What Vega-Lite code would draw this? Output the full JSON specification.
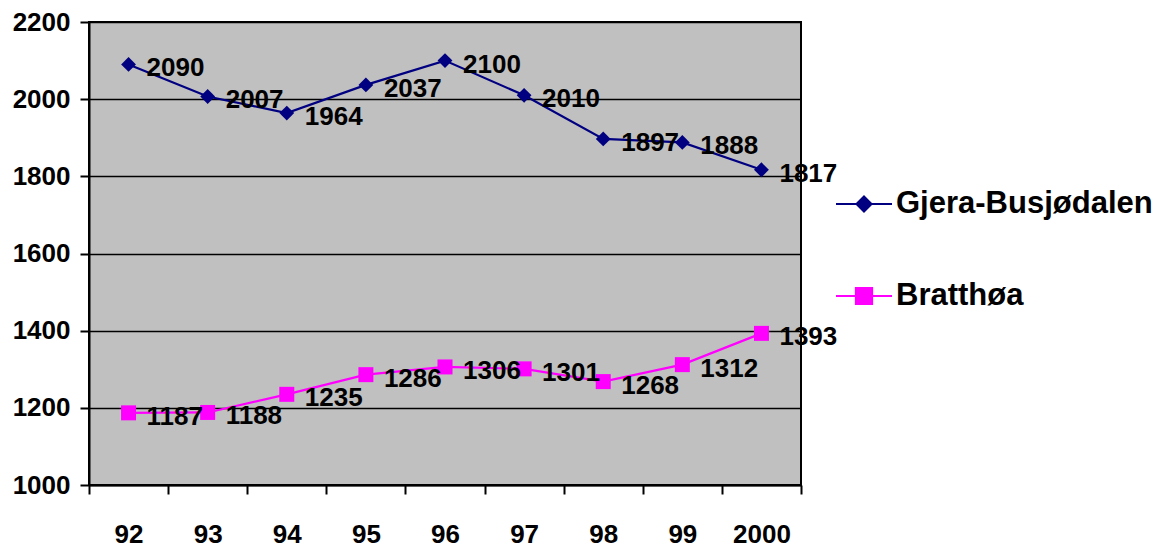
{
  "$schema": "https://vega.github.io/schema/vega-lite/v6.json",
  "width": 712,
  "height": 463,
  "autosize": "none",
  "padding": {"left": 89, "top": 22, "right": 365, "bottom": 59},
  "background": "white",
  "config": {
    "view": {"fill": "#C0C0C0", "stroke": "black", "strokeWidth": 2},
    "font": "Liberation Sans"
  },
  "data": {
    "values": [
      {"year": "92", "series": "Gjera-Busjødalen", "value": 2090},
      {"year": "93", "series": "Gjera-Busjødalen", "value": 2007},
      {"year": "94", "series": "Gjera-Busjødalen", "value": 1964},
      {"year": "95", "series": "Gjera-Busjødalen", "value": 2037},
      {"year": "96", "series": "Gjera-Busjødalen", "value": 2100},
      {"year": "97", "series": "Gjera-Busjødalen", "value": 2010},
      {"year": "98", "series": "Gjera-Busjødalen", "value": 1897},
      {"year": "99", "series": "Gjera-Busjødalen", "value": 1888},
      {"year": "2000", "series": "Gjera-Busjødalen", "value": 1817},
      {"year": "92", "series": "Bratthøa", "value": 1187},
      {"year": "93", "series": "Bratthøa", "value": 1188},
      {"year": "94", "series": "Bratthøa", "value": 1235},
      {"year": "95", "series": "Bratthøa", "value": 1286},
      {"year": "96", "series": "Bratthøa", "value": 1306},
      {"year": "97", "series": "Bratthøa", "value": 1301},
      {"year": "98", "series": "Bratthøa", "value": 1268},
      {"year": "99", "series": "Bratthøa", "value": 1312},
      {"year": "2000", "series": "Bratthøa", "value": 1393}
    ]
  },
  "encoding": {
    "x": {
      "field": "year",
      "type": "ordinal",
      "sort": null,
      "scale": {"type": "band", "domain": ["92", "93", "94", "95", "96", "97", "98", "99", "2000"], "paddingInner": 0, "paddingOuter": 0},
      "axis": {
        "title": null,
        "labelAngle": 0,
        "tickBand": "extent",
        "grid": false,
        "domainColor": "black",
        "domainWidth": 2,
        "tickColor": "black",
        "tickWidth": 2,
        "tickSize": 9,
        "labelPadding": 27,
        "labelFontSize": 26,
        "labelFontWeight": "bold",
        "labelColor": "black"
      }
    },
    "y": {
      "field": "value",
      "type": "quantitative",
      "scale": {"domain": [1000, 2200], "nice": false, "zero": false},
      "axis": {
        "title": null,
        "format": "d",
        "values": [1000, 1200, 1400, 1600, 1800, 2000, 2200],
        "grid": true,
        "gridColor": "black",
        "gridWidth": 1.5,
        "gridOpacity": 1,
        "domainColor": "black",
        "domainWidth": 2,
        "tickColor": "black",
        "tickWidth": 2,
        "tickSize": 9,
        "labelPadding": 10,
        "labelFontSize": 26,
        "labelFontWeight": "bold",
        "labelColor": "black"
      }
    }
  },
  "layer": [
    {
      "mark": {"type": "line", "strokeWidth": 2.2},
      "encoding": {
        "color": {
          "field": "series",
          "type": "nominal",
          "scale": {"domain": ["Gjera-Busjødalen", "Bratthøa"], "range": ["#000080", "#FF00FF"]},
          "legend": {
            "title": null,
            "orient": "none",
            "legendX": 746,
            "legendY": 153,
            "padding": 0,
            "symbolSize": 3136,
            "symbolStrokeWidth": 2,
            "rowPadding": 48,
            "labelOffset": 3,
            "labelFontSize": 31,
            "labelFontWeight": "bold",
            "labelColor": "black",
            "labelLimit": 400,
            "encode": {
              "symbols": {
                "update": {
                  "shape": {"signal": "datum.value === 'Bratthøa' ? 'M-1,0L1,0M-0.29,-0.29L0.29,-0.29L0.29,0.29L-0.29,0.29Z' : 'M-1,0L1,0M0,-0.27L0.27,0L0,0.27L-0.27,0Z'"},
                  "fill": {"signal": "datum.value === 'Bratthøa' ? '#FF00FF' : '#000080'"},
                  "stroke": {"signal": "datum.value === 'Bratthøa' ? '#FF00FF' : '#000080'"},
                  "strokeWidth": {"value": 2},
                  "opacity": {"value": 1}
                }
              }
            }
          }
        }
      }
    },
    {
      "transform": [{"filter": "datum.series === 'Gjera-Busjødalen'"}],
      "mark": {"type": "point", "filled": true, "opacity": 1, "shape": "diamond", "size": 220, "color": "#000080"}
    },
    {
      "transform": [{"filter": "datum.series === 'Bratthøa'"}],
      "mark": {"type": "point", "filled": true, "opacity": 1, "shape": "square", "size": 225, "color": "#FF00FF"}
    },
    {
      "mark": {"type": "text", "align": "left", "baseline": "middle", "dx": 18, "dy": 4, "fontSize": 26, "fontWeight": "bold", "color": "black"},
      "encoding": {"text": {"field": "value", "type": "quantitative", "format": "d"}}
    }
  ]
}
